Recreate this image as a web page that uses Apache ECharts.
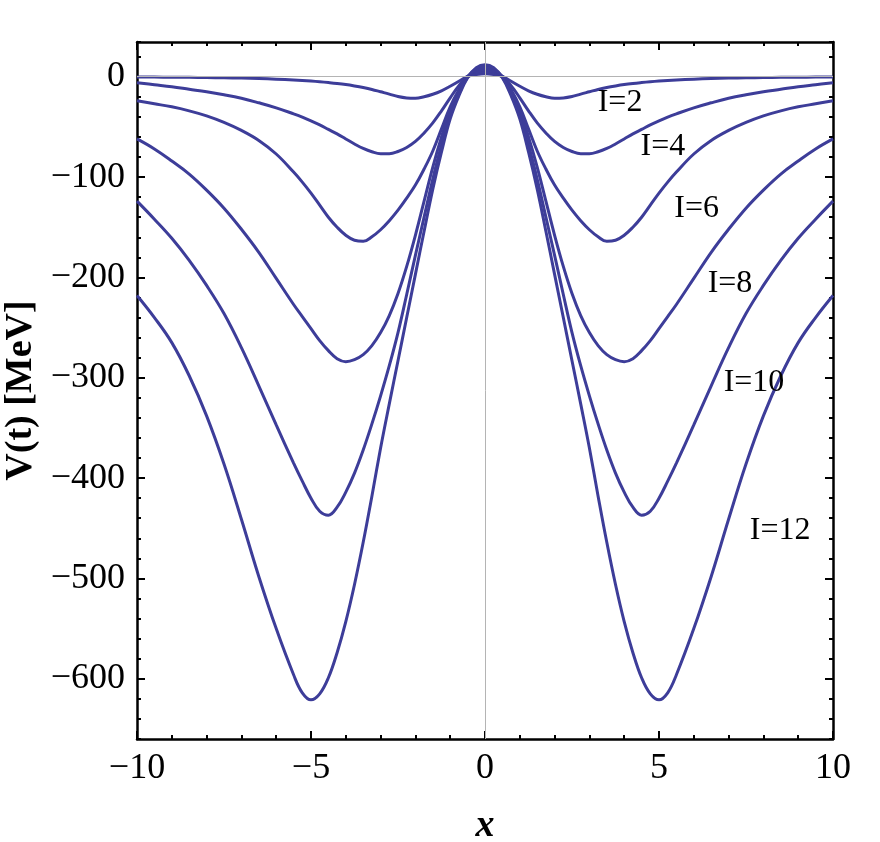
<!DOCTYPE html>
<html>
<head>
<meta charset="utf-8">
<script src="https://cdn.jsdelivr.net/npm/echarts@6/dist/echarts.min.js"></script>
<style>
  html, body { margin: 0; padding: 0; background: #fff; }
  #main { width: 880px; height: 842px; }
</style>
</head>
<body>
<div id="main"></div>
<script>
var xs = [-10, -9.5, -9, -8.5, -8, -7.5, -7, -6.5, -6, -5.5, -5.25, -5, -4.75, -4.5, -4.25, -4, -3.75, -3.5, -3.25, -3,
  -2.75, -2.5, -2.25, -2, -1.75, -1.5, -1.25, -1, -0.75, -0.5, -0.25,
  0,
  0.25, 0.5, 0.75, 1, 1.25, 1.5, 1.75, 2, 2.25, 2.5, 2.75, 3, 3.25, 3.5, 3.75, 4, 4.25, 4.5, 4.75, 5, 5.25, 5.5,
  6, 6.5, 7, 7.5, 8, 8.5, 9, 9.5, 10];

// V(t) in MeV for each I
var v2 = [-0.3, -0.4, -0.5, -0.6, -0.8, -1.1, -1.4, -1.8, -2.4, -3.2, -3.7, -4.3, -5, -5.8, -6.7, -7.8, -9.2, -10.8, -12.7, -15,
  -17.3, -19.8, -21.2, -21.5, -20, -17.5, -14, -9.5, -4.5, 0.3, 2.2,
  3,
  2.2, 0.3, -4.5, -9.5, -14, -17.5, -20, -21.5, -21.2, -19.8, -17.3, -15, -12.7, -10.8, -9.2, -7.8, -6.7, -5.8, -5, -4.3, -3.7, -3.2,
  -2.4, -1.8, -1.4, -1.1, -0.8, -0.6, -0.5, -0.4, -0.3];
var v4 = [-6, -8, -10, -12.5, -15, -18, -21.5, -26, -31, -37, -40.3, -44, -48, -52.5, -57, -62, -67, -71.5, -74.8, -76.7,
  -76.7, -74.5, -70.5, -64.5, -56, -46, -34, -21, -9, 0.3, 3.8,
  5,
  3.8, 0.3, -9, -21, -34, -46, -56, -64.5, -70.5, -74.5, -76.7, -76.7, -74.8, -71.5, -67, -62, -57, -52.5, -48, -44, -40.3, -37,
  -31, -26, -21.5, -18, -15, -12.5, -10, -8, -6];
var v6 = [-24, -27, -30, -34, -39, -45.5, -53.5, -63.5, -77, -95, -105, -116, -128, -140, -150, -158, -163, -164, -159.5, -152.5,
  -143.5, -133, -121, -108, -92, -74, -52, -30, -13, 0, 5.3,
  7,
  5.3, 0, -13, -30, -52, -74, -92, -108, -121, -133, -143.5, -152.5, -159.5, -164, -163, -158, -150, -140, -128, -116, -105, -95,
  -77, -63.5, -53.5, -45.5, -39, -34, -30, -27, -24];
var v8 = [-62, -72, -84, -97, -113, -131, -152, -175, -201, -227, -239, -251, -263, -273, -281, -284, -282, -277, -268, -255,
  -238, -216, -189, -158, -124, -90, -60, -34, -15, 0, 6.8,
  9,
  6.8, 0, -15, -34, -60, -90, -124, -158, -189, -216, -238, -255, -268, -277, -282, -284, -281, -273, -263, -251, -239, -227,
  -201, -175, -152, -131, -113, -97, -84, -72, -62];
var v10 = [-124, -142, -161, -183, -208, -236, -270, -308, -347, -385, -403, -420, -433, -437, -429, -414, -395, -372, -346, -318,
  -288, -255, -217, -178, -140, -102, -68, -39, -17, -0.5, 8,
  10.5,
  8, -0.5, -17, -39, -68, -102, -140, -178, -217, -255, -288, -318, -346, -372, -395, -414, -429, -437, -433, -420, -403, -385,
  -347, -308, -270, -236, -208, -183, -161, -142, -124];
var v12 = [-218, -240, -265, -298, -338, -386, -441, -498, -550, -596, -614, -621, -615, -599, -574, -543, -506, -464, -418, -370,
  -326, -283, -240, -197, -154, -112, -75, -42, -19, -1, 9,
  12,
  9, -1, -19, -42, -75, -112, -154, -197, -240, -283, -326, -370, -418, -464, -506, -543, -574, -599, -615, -621, -614, -596,
  -550, -498, -441, -386, -338, -298, -265, -240, -218];

var curveNames = ['I=2', 'I=4', 'I=6', 'I=8', 'I=10', 'I=12'];
var curveValues = [v2, v4, v6, v8, v10, v12];

// where the I= labels sit (data coords)
var labelX = [3.88, 5.11, 6.08, 7.04, 7.73, 8.48];
var labelY = [-26, -70, -131, -206, -305, -452];

var yMajor = [-600, -500, -400, -300, -200, -100, 0];

var lineColor = '#3d3d99';
var serif = '"Liberation Serif", "DejaVu Serif", serif';
var minus = function (v) { return String(v).replace('-', '\u2212'); };

var chart = echarts.init(document.getElementById('main'));

var series = [];
// thin gray axes through the origin
series.push({
  type: 'line',
  data: [],
  z: 1,
  silent: true,
  markLine: {
    silent: true,
    symbol: 'none',
    label: { show: false },
    lineStyle: { color: '#b4b4b4', width: 1, type: 'solid' },
    data: [{ xAxis: 0 }, { yAxis: 0 }]
  }
});
for (var i = 0; i < curveValues.length; i++) {
  var vals = curveValues[i];
  series.push({
    name: curveNames[i],
    type: 'line',
    z: 3,
    showSymbol: false,
    smooth: 0.4,
    lineStyle: { color: lineColor, width: 3 },
    data: xs.map(function (x, k) { return [x, vals[k]]; })
  });
}
series.push({
  type: 'scatter',
  z: 4,
  symbolSize: 0,
  itemStyle: { color: '#000' },
  silent: true,
  label: {
    show: true,
    position: [0, 0],
    align: 'center',
    verticalAlign: 'middle',
    formatter: function (p) { return p.name; },
    color: '#000',
    opacity: 1,
    textBorderWidth: 0,
    fontFamily: serif,
    fontSize: 32
  },
  data: curveNames.map(function (n, k) { return { name: n, value: [labelX[k], labelY[k]] }; })
});

var frame = { show: true, onZero: false, lineStyle: { color: '#000', width: 2.5 } };
var noLine = { show: false, onZero: false };

var option = {
  animation: false,
  backgroundColor: '#fff',
  grid: { left: 137, right: 47, top: 42, bottom: 103, outerBoundsMode: 'none' },
  xAxis: [
    {
      type: 'value', position: 'bottom', min: -10, max: 10, interval: 5,
      name: 'x', nameLocation: 'middle', nameGap: 68,
      nameTextStyle: { fontFamily: serif, fontSize: 38, fontStyle: 'italic', fontWeight: 'bold', color: '#000' },
      axisLine: frame,
      axisTick: { inside: true, length: 8, lineStyle: { color: '#000', width: 2 } },
      minorTick: { show: true, splitNumber: 5, length: 4, lineStyle: { color: '#000', width: 2 } },
      splitLine: { show: false },
      axisLabel: { formatter: minus, fontFamily: serif, fontSize: 36, color: '#000', margin: 12 }
    },
    {
      type: 'value', position: 'top', min: -10, max: 10, interval: 5,
      axisLine: frame,
      axisTick: { inside: true, length: 8, lineStyle: { color: '#000', width: 2 } },
      minorTick: { show: true, splitNumber: 5, length: 4, lineStyle: { color: '#000', width: 2 } },
      splitLine: { show: false },
      axisLabel: { show: false }
    }
  ],
  yAxis: [
    {
      type: 'value', position: 'left', min: -660, max: 34.6,
      name: 'V(t) [MeV]', nameLocation: 'middle', nameGap: 95, nameRotate: 90,
      nameTextStyle: { fontFamily: serif, fontSize: 38, fontWeight: 'bold', color: '#000' },
      axisLine: frame,
      axisTick: { inside: true, length: 8, customValues: yMajor, lineStyle: { color: '#000', width: 2 } },
      splitLine: { show: false },
      axisLabel: { customValues: yMajor, formatter: minus, fontFamily: serif, fontSize: 36, color: '#000', margin: 12 }
    },
    {
      type: 'value', position: 'left', min: -660, max: 34.6, interval: 20,
      axisLine: noLine,
      axisTick: { inside: true, length: 4, lineStyle: { color: '#000', width: 2 } },
      splitLine: { show: false },
      axisLabel: { show: false }
    },
    {
      type: 'value', position: 'right', min: -660, max: 34.6,
      axisLine: frame,
      axisTick: { inside: true, length: 8, customValues: yMajor, lineStyle: { color: '#000', width: 2 } },
      splitLine: { show: false },
      axisLabel: { show: false }
    },
    {
      type: 'value', position: 'right', min: -660, max: 34.6, interval: 20,
      axisLine: noLine,
      axisTick: { inside: true, length: 4, lineStyle: { color: '#000', width: 2 } },
      splitLine: { show: false },
      axisLabel: { show: false }
    }
  ],
  series: series
};

chart.setOption(option);
</script>
</body>
</html>
